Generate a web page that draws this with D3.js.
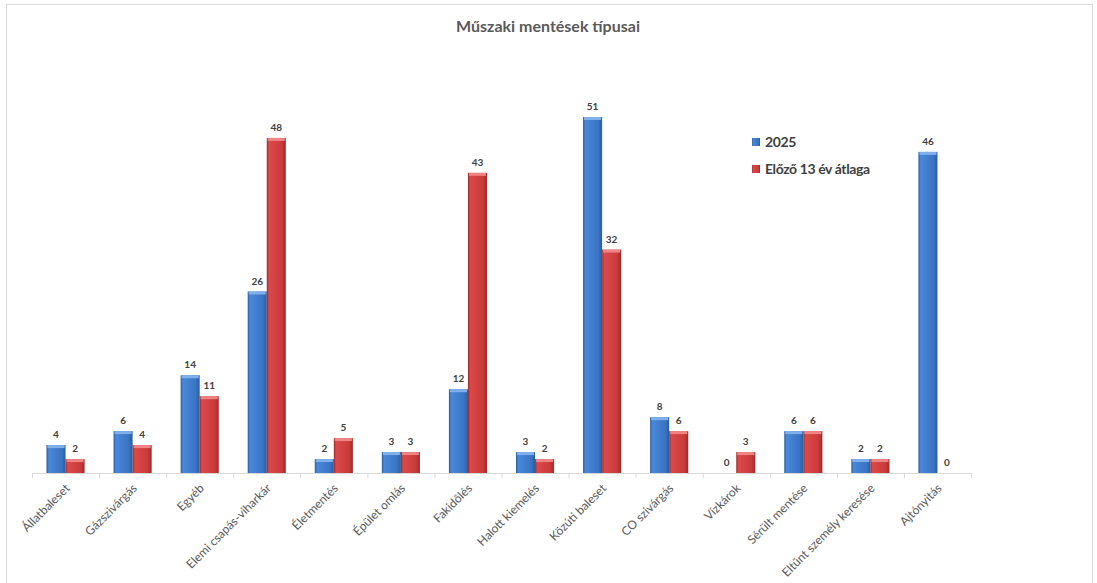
<!DOCTYPE html>
<html>
<head>
<meta charset="utf-8">
<script src="https://cdn.jsdelivr.net/npm/d3@7"></script>
<style>
  body { margin: 0; background: #fff; }
  text { font-family: Lato, "Open Sans", sans-serif; }
</style>
</head>
<body>
<div id="chart"></div>
<script>
const categories = ['Állatbaleset', 'Gázszivárgás', 'Egyéb', 'Elemi csapás-viharkár', 'Életmentés',
    'Épület omlás', 'Fakidőlés', 'Halott kiemelés', 'Közúti baleset', 'CO szivárgás',
    'Vízkárok', 'Sérült mentése', 'Eltűnt személy keresése', 'Ajtónyitás'];
const values2025 = [4, 6, 14, 26, 2, 3, 12, 3, 51, 8, 0, 6, 2, 46];
const valuesAvg = [2, 4, 11, 48, 5, 3, 43, 2, 32, 6, 3, 6, 2, 0];
const seriesNames = ['2025', 'Előző 13 év átlaga'];

const width = 1097;
const height = 583;
const margin = { left: 32, right: 126, top: 117, bottom: 110 };

const svg = d3.select('#chart')
    .append('svg')
    .attr('width', width)
    .attr('height', height);

// chart frame
svg.append('rect')
    .attr('x', 6.5)
    .attr('y', 4.5)
    .attr('width', 1086)
    .attr('height', 600)
    .attr('fill', 'none')
    .attr('stroke', '#d9d9d9');

const defs = svg.append('defs');
function makeGradient(id, edge, mid, light) {
    const g = defs.append('linearGradient').attr('id', id)
        .attr('x1', '0%').attr('x2', '100%').attr('y1', '0%').attr('y2', '0%');
    g.append('stop').attr('offset', '0%').attr('stop-color', edge);
    g.append('stop').attr('offset', '12%').attr('stop-color', light);
    g.append('stop').attr('offset', '80%').attr('stop-color', mid);
    g.append('stop').attr('offset', '100%').attr('stop-color', edge);
}
makeGradient('gBlue', '#2a5b9e', '#3a74c4', '#4a88d8');
makeGradient('gRed', '#9c2a2a', '#c93a3a', '#db4a4a');
const colors = ['url(#gBlue)', 'url(#gRed)'];
const topColors = ['#7fb0ec', '#ee8484'];

const baseline = 473;
const x = d3.scaleBand()
    .domain(categories)
    .range([margin.left, 971])
    .paddingInner(0)
    .paddingOuter(0);
const x1 = d3.scaleBand()
    .domain([0, 1])
    .range([0, x.bandwidth()])
    .paddingOuter(0.76)
    .paddingInner(0);
const y = d3.scaleLinear()
    .domain([0, 51])
    .range([baseline, margin.top]);

svg.append('text')
    .attr('x', 548)
    .attr('y', 32)
    .attr('text-anchor', 'middle')
    .attr('fill', '#595959')
    .style('font-size', '16px')
    .style('font-weight', 'bold')
    .text('Műszaki mentések típusai');

const series = [values2025, valuesAvg];
const groups = svg.selectAll('.cat')
    .data(categories)
    .enter()
    .append('g')
    .attr('class', 'cat')
    .attr('transform', (d) => `translate(${x(d)},0)`);

series.forEach((vals, si) => {
    groups.filter((d, i) => vals[i] > 0)
        .append('rect')
        .attr('x', x1(si))
        .attr('y', (d) => y(vals[categories.indexOf(d)]))
        .attr('width', x1.bandwidth())
        .attr('height', (d) => baseline - y(vals[categories.indexOf(d)]))
        .attr('fill', colors[si]);
    groups.filter((d, i) => vals[i] > 0)
        .append('rect')
        .attr('x', x1(si) + 1)
        .attr('y', (d) => y(vals[categories.indexOf(d)]))
        .attr('width', x1.bandwidth() - 2)
        .attr('height', 3)
        .attr('fill', topColors[si]);
    groups.append('text')
        .attr('x', x1(si) + x1.bandwidth() / 2)
        .attr('y', (d) => y(vals[categories.indexOf(d)]) - 7)
        .attr('text-anchor', 'middle')
        .attr('fill', '#404040')
        .style('font-size', '10px')
        .style('font-weight', 'bold')
        .text((d) => vals[categories.indexOf(d)]);
});

// x axis
const axis = svg.append('g');
axis.append('line')
    .attr('x1', margin.left).attr('x2', 971)
    .attr('y1', baseline + 0.5).attr('y2', baseline + 0.5)
    .attr('stroke', '#d9d9d9');
axis.selectAll('.tick')
    .data(d3.range(categories.length + 1))
    .enter()
    .append('line')
    .attr('x1', (d) => margin.left + d * x.bandwidth() + 0.5)
    .attr('x2', (d) => margin.left + d * x.bandwidth() + 0.5)
    .attr('y1', baseline)
    .attr('y2', baseline + 5)
    .attr('stroke', '#d9d9d9');
axis.selectAll('.lbl')
    .data(categories)
    .enter()
    .append('text')
    .attr('transform', (d) => `translate(${x(d) + x.bandwidth() / 2 + 2},${baseline + 13}) rotate(-45)`)
    .attr('text-anchor', 'end')
    .attr('dy', '0.35em')
    .attr('fill', '#595959')
    .style('font-size', '12px')
    .text((d) => d);

// legend
const legend = svg.append('g').attr('transform', 'translate(752,138)');
seriesNames.forEach((name, i) => {
    const row = legend.append('g').attr('transform', `translate(0,${i * 27})`);
    row.append('rect')
        .attr('width', 8).attr('height', 8)
        .attr('fill', colors[i]);
    row.append('text')
        .attr('x', 13)
        .attr('y', 4)
        .attr('dy', '0.35em')
        .attr('fill', '#404040')
        .style('font-size', '14px')
        .style('font-weight', 'bold')
        .style('letter-spacing', '-0.4px')
        .text(name);
});
</script>
</body>
</html>
